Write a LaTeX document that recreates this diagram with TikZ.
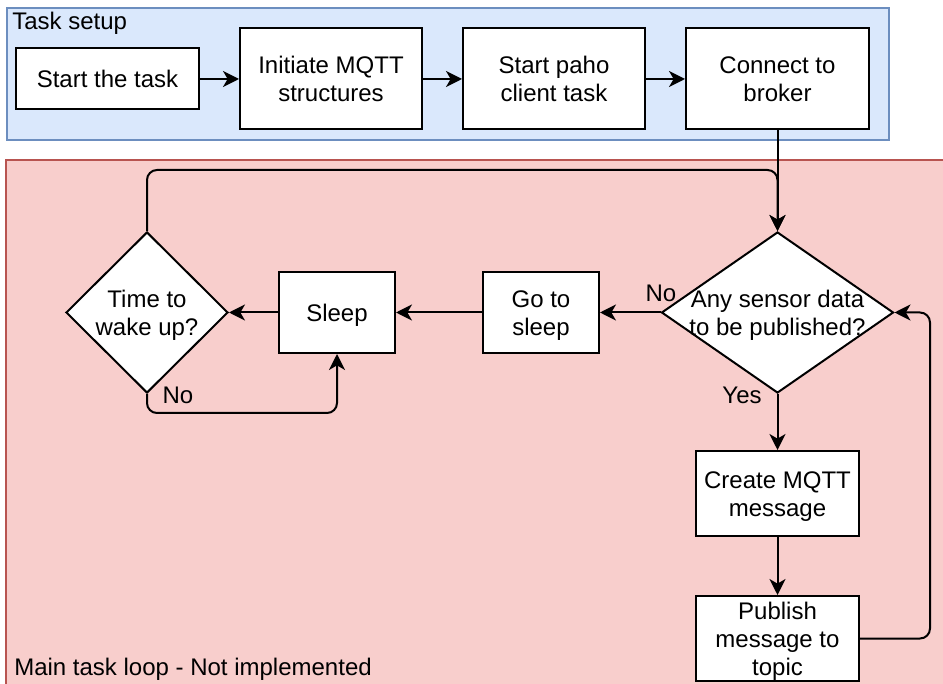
\documentclass[tikz,border=0pt]{standalone}
\usepackage{fontspec}
\setmainfont{Liberation Sans}
\usetikzlibrary{shapes.geometric,arrows.meta}

\definecolor{setupfill}{HTML}{DAE8FC}
\definecolor{setupline}{HTML}{6C8EBF}
\definecolor{loopfill}{HTML}{F8CECC}
\definecolor{loopline}{HTML}{B85450}

% fixed line box so every text line sits the same way
\newcommand{\ls}{\rule[-4pt]{0pt}{21pt}}

\begin{document}
\begin{tikzpicture}[x=0.75pt,y=-0.75pt,
  font=\fontsize{18}{21}\selectfont,
  box/.style={draw=black, fill=white, line width=1.5pt, align=center,
    inner sep=0pt, minimum width=#1},
  box/.default={163*0.75pt},
  decision/.style={diamond, draw=black, fill=white, line width=1.5pt,
    inner sep=0pt},
  arr/.style={draw=black, line width=1.5pt,
    -{Stealth[length=12pt,width=12pt,inset=3.5pt]}},
  tag/.style={inner sep=0pt}]

\useasboundingbox (0,0) rectangle (943,684);

% group frames
\begin{scope}
  \clip (0,0) rectangle (943,684);
  \draw[fill=setupfill, draw=setupline, line width=1.5pt] (7,8) rectangle (889,140);
  \draw[fill=loopfill, draw=loopline, line width=1.5pt] (6,160) rectangle (960,700);
\end{scope}
\node[tag, anchor=west] (setuplbl) at (12,23.5) {Task setup};
\node[tag, anchor=west] (looplbl) at (14,669.5) {Main task loop - Not implemented};

% task setup chain
\node[box={183*0.75pt}, minimum height=61*0.75pt] (start) at (107.5,79) {\ls Start the task};
\node[box={182*0.75pt}, minimum height=101*0.75pt] (init) at (331,79) {\ls Initiate MQTT\\\ls structures};
\node[box={182*0.75pt}, minimum height=101*0.75pt] (paho) at (554,79) {\ls Start paho\\\ls client task};
\node[box={183*0.75pt}, minimum height=101*0.75pt] (connect) at (777.5,79) {\ls Connect to\\\ls broker};

% main loop
\node[decision, minimum width=232*0.75pt, minimum height=161*0.75pt,
  label={[align=center, inner sep=0pt]center:\ls Any sensor data\\\ls to be published?}] (query) at (777.5,312.5) {};
\node[box={116*0.75pt}, minimum height=81*0.75pt] (gosleep) at (541,312.5) {\ls Go to\\\ls sleep};
\node[box={116*0.75pt}, minimum height=81*0.75pt] (sleep) at (337,312.5) {\ls Sleep};
\node[decision, minimum width=162*0.75pt, minimum height=161*0.75pt,
  label={[align=center, inner sep=0pt]center:\ls Time to\\\ls wake up?}] (wake) at (147,312.5) {};
\node[box, minimum height=85*0.75pt] (create) at (777.5,493.5) {\ls Create MQTT\\\ls message};
\node[box, minimum height=85*0.75pt] (publish) at (777.5,638.5) {\ls Publish\\\ls message to\\\ls topic};

% routing points
\coordinate (looptop) at (0,170);
\coordinate (loopbot) at (0,413);
\coordinate (loopright) at (930,0);

% connectors
\draw[arr] (start) -- (init);
\draw[arr] (init) -- (paho);
\draw[arr] (paho) -- (connect);
\draw[arr] (connect) -- (query.north);
\draw[arr] (query.west) -- (gosleep.east);
\draw[arr] (gosleep) -- (sleep);
\draw[arr] (sleep.west) -- (wake.east);
\draw[arr, rounded corners=7.5pt] (wake.north) |- (query.north |- looptop) -- (query.north);
\draw[arr, rounded corners=7.5pt] (wake.south) |- (sleep.south |- loopbot) -- (sleep.south);
\draw[arr] (query.south) -- (create.north);
\draw[arr] (create) -- (publish);
\draw[arr, rounded corners=7.5pt] (publish.east) -- (publish.east -| loopright) |- (query.east);

% branch labels
\node[tag] (nolbl) at (661,293) {No};
\node[tag] (yeslbl) at (742,395) {Yes};
\node[tag] (nowake) at (178,395) {No};

\end{tikzpicture}
\end{document}
